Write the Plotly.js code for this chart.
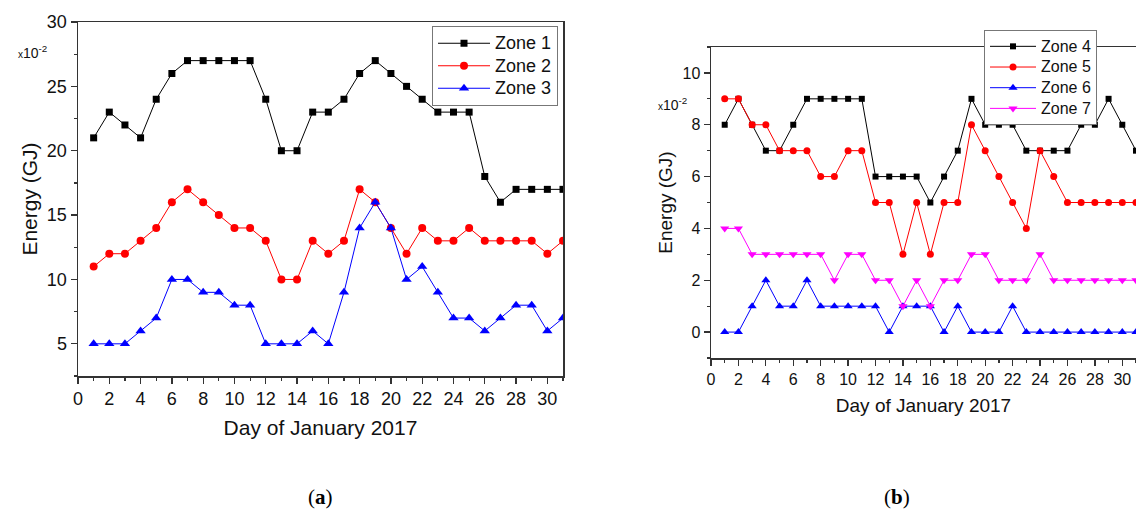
<!DOCTYPE html>
<html><head><meta charset="utf-8">
<script src="https://cdn.plot.ly/plotly-3.0.1.min.js"></script>
<style>html,body{margin:0;padding:0;background:#fff}#chart{width:1136px;height:513px}</style>
</head><body><div id="chart"></div>
<script>
const days = [1,2,3,4,5,6,7,8,9,10,11,12,13,14,15,16,17,18,19,20,21,22,23,24,25,26,27,28,29,30,31];
const zone1 = [21,23,22,21,24,26,27,27,27,27,27,24,20,20,23,23,24,26,27,26,25,24,23,23,23,18,16,17,17,17,17];
const zone2 = [11,12,12,13,14,16,17,16,15,14,14,13,10,10,13,12,13,17,16,14,12,14,13,13,14,13,13,13,13,12,13];
const zone3 = [5,5,5,6,7,10,10,9,9,8,8,5,5,5,6,5,9,14,16,14,10,11,9,7,7,6,7,8,8,6,7];
const zone4 = [8,9,8,7,7,8,9,9,9,9,9,6,6,6,6,5,6,7,9,8,8,8,7,7,7,7,8,8,9,8,7];
const zone5 = [9,9,8,8,7,7,7,6,6,7,7,5,5,3,5,3,5,5,8,7,6,5,4,7,6,5,5,5,5,5,5];
const zone6 = [0,0,1,2,1,1,2,1,1,1,1,1,0,1,1,1,0,1,0,0,0,1,0,0,0,0,0,0,0,0,0];
const zone7 = [4,4,3,3,3,3,3,3,2,3,3,2,2,1,2,1,2,2,3,3,2,2,2,3,2,2,2,2,2,2,2];
const namesA = ['Zone 1','Zone 2','Zone 3'];
const namesB = ['Zone 4','Zone 5','Zone 6','Zone 7'];
const xTitle = 'Day of January 2017';
const yTitle = 'Energy (GJ)';

const W = 1136, H = 513;
const px = v => v / W;
const py = v => 1 - v / H;
const FONT = 'Liberation Sans, Arial, sans-serif';

function tr(x, y, name, color, symbol, size, xa, ya, leg, fs) {
  return {x, y, name: '<span style="font-size:' + fs + 'px">' + name + '</span>',
    type: 'scatter', mode: 'lines+markers', xaxis: xa, yaxis: ya, legend: leg,
    line: {color: color, width: 1},
    marker: {color: color, symbol: symbol, size: size, line: {width: 0}}};
}

const data = [
  tr(days, zone1, namesA[0], '#000000', 'square', 7, 'x', 'y', 'legend', 18),
  tr(days, zone2, namesA[1], '#ff0000', 'circle', 8, 'x', 'y', 'legend', 18),
  tr(days, zone3, namesA[2], '#0000ff', 'triangle-up', 9, 'x', 'y', 'legend', 18),
  tr(days, zone4, namesB[0], '#000000', 'square', 6, 'x2', 'y2', 'legend2', 16),
  tr(days, zone5, namesB[1], '#ff0000', 'circle', 7, 'x2', 'y2', 'legend2', 16),
  tr(days, zone6, namesB[2], '#0000ff', 'triangle-up', 8, 'x2', 'y2', 'legend2', 16),
  tr(days, zone7, namesB[3], '#ff00ff', 'triangle-down', 8, 'x2', 'y2', 'legend2', 16)
];

function axis(extra) {
  return Object.assign({
    showline: true, linecolor: '#333', linewidth: 1.5, mirror: true,
    ticks: 'outside', ticklen: 6, tickwidth: 1.3, tickcolor: '#333',
    showgrid: false, zeroline: false, fixedrange: true
  }, extra);
}

const layout = {
  width: W, height: H,
  margin: {l: 0, r: 0, t: 0, b: 0},
  paper_bgcolor: '#fff', plot_bgcolor: '#fff',
  font: {family: FONT, color: '#111'},
  showlegend: true,
  xaxis: axis({domain: [px(78), px(563)], range: [0, 31], dtick: 2, tick0: 0,
    minor: {dtick: 1, ticks: 'outside', ticklen: 3, tickcolor: '#333', tickwidth: 1.2},
    tickfont: {size: 18}, title: {text: xTitle, font: {size: 21}, standoff: 12}, anchor: 'y'}),
  yaxis: axis({domain: [py(376), py(22)], range: [2.5, 30], dtick: 5, tick0: 0,
    minor: {dtick: 2.5, ticks: 'outside', ticklen: 3, tickcolor: '#333', tickwidth: 1.2},
    tickfont: {size: 18}, title: {text: yTitle, font: {size: 21}, standoff: 3}, anchor: 'x'}),
  xaxis2: axis({domain: [px(711), 1], range: [0, 31], dtick: 2, tick0: 0,
    minor: {dtick: 1, ticks: 'outside', ticklen: 3, tickcolor: '#333', tickwidth: 1.2},
    tickfont: {size: 16}, title: {text: xTitle, font: {size: 19}, standoff: 12}, anchor: 'y2'}),
  yaxis2: axis({domain: [py(358), py(47)], range: [-1, 11], dtick: 2, tick0: 0,
    minor: {dtick: 1, ticks: 'outside', ticklen: 3, tickcolor: '#333', tickwidth: 1.2},
    tickfont: {size: 16}, title: {text: yTitle, font: {size: 19}, standoff: 5}, anchor: 'x2'}),
  legend: {x: px(558), y: py(26), xanchor: 'right', yanchor: 'top',
    bgcolor: '#fff', bordercolor: '#777', borderwidth: 1, font: {size: 15, family: FONT},
    tracegroupgap: 0, itemwidth: 52},
  legend2: {x: px(1097), y: py(30), xanchor: 'right', yanchor: 'top',
    bgcolor: '#fff', bordercolor: '#777', borderwidth: 1, font: {size: 13.6, family: FONT},
    tracegroupgap: 0, itemwidth: 46},
  annotations: [
    {xref: 'paper', yref: 'paper', x: px(16), y: py(52), xanchor: 'left', yanchor: 'middle',
      text: '<span style="font-size:10px">x</span>10<sup>-2</sup>', showarrow: false, font: {size: 14, family: FONT}},
    {xref: 'paper', yref: 'paper', x: px(656), y: py(104), xanchor: 'left', yanchor: 'middle',
      text: '<span style="font-size:10px">x</span>10<sup>-2</sup>', showarrow: false, font: {size: 14, family: FONT}},
    {xref: 'paper', yref: 'paper', x: px(320), y: py(497), xanchor: 'center', yanchor: 'middle',
      text: '(<b>a</b>)', showarrow: false, font: {size: 21, family: 'Liberation Serif, serif', color: '#000'}},
    {xref: 'paper', yref: 'paper', x: px(897), y: py(497), xanchor: 'center', yanchor: 'middle',
      text: '(<b>b</b>)', showarrow: false, font: {size: 21, family: 'Liberation Serif, serif', color: '#000'}}
  ]
};

Plotly.newPlot('chart', data, layout, {displayModeBar: false, staticPlot: true});
</script>
</body></html>
